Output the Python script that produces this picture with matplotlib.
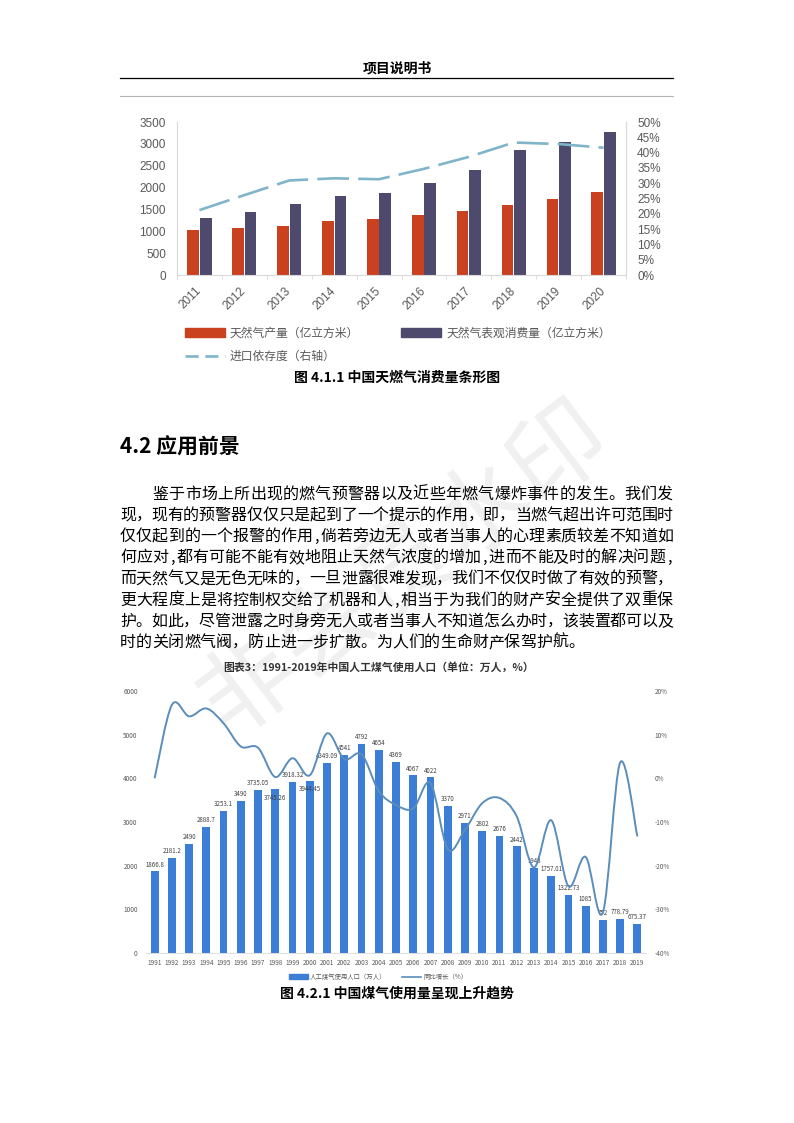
import matplotlib
matplotlib.use("Agg")
import matplotlib.pyplot as plt
import numpy as np
from matplotlib.patches import Patch, PathPatch
from matplotlib.lines import Line2D
from matplotlib.path import Path

plt.rcParams['font.family'] = ['Noto Sans CJK SC', 'DejaVu Sans']

W, H = 794, 1123

# 图 4.1.1 数据
years1 = ['2011', '2012', '2013', '2014', '2015', '2016', '2017', '2018', '2019', '2020']
production = [1022, 1076, 1130, 1239, 1278, 1363, 1471, 1611, 1750, 1905]
consumption = [1309, 1448, 1634, 1812, 1866, 2098, 2408, 2857, 3051, 3260]
import_dep = [21.2, 26.1, 30.9, 31.6, 31.3, 34.7, 38.6, 43.3, 42.8, 41.6]

# 图 4.2.1 数据
years2 = ['1991', '1992', '1993', '1994', '1995', '1996', '1997', '1998', '1999', '2000',
          '2001', '2002', '2003', '2004', '2005', '2006', '2007', '2008', '2009', '2010',
          '2011', '2012', '2013', '2014', '2015', '2016', '2017', '2018', '2019']
population = [1866.8, 2181.2, 2490, 2888.7, 3253.1, 3490, 3735.05, 3745.26, 3918.32, 3944.45,
              4349.09, 4541, 4792, 4654, 4369, 4067, 4022, 3370, 2971, 2802,
              2676, 2442, 1943, 1757.01, 1322.73, 1085, 752, 778.79, 675.37]
growth = [0, 16.8, 14.2, 16.0, 12.6, 7.3, 7.0, 0.3, 4.6, 0.7,
          10.3, 4.4, 5.5, -2.9, -6.1, -6.9, -1.1, -16.2, -11.8, -5.7,
          -4.5, -8.7, -20.4, -9.6, -24.7, -18.0, -30.7, 3.6, -13.3]
# 这两个标签在原图里压在柱顶上
low_labels = ['1998', '2000']

body_lines = [
    "鉴于市场上所出现的燃气预警器以及近些年燃气爆炸事件的发生。我们发",
    "现，现有的预警器仅仅只是起到了一个提示的作用，即，当燃气超出许可范围时",
    "仅仅起到的一个报警的作用,倘若旁边无人或者当事人的心理素质较差不知道如",
    "何应对,都有可能不能有效地阻止天然气浓度的增加,进而不能及时的解决问题,",
    "而天然气又是无色无味的，一旦泄露很难发现，我们不仅仅时做了有效的预警，",
    "更大程度上是将控制权交给了机器和人,相当于为我们的财产安全提供了双重保",
    "护。如此，尽管泄露之时身旁无人或者当事人不知道怎么办时，该装置都可以及",
    "时的关闭燃气阀，防止进一步扩散。为人们的生命财产保驾护航。",
]


def fx(x):
    return x / W


def fy(y):
    return 1 - y / H


fig = plt.figure(figsize=(W / 100, H / 100), dpi=100)

# 水印
fig.text(fx(405), fy(570), "非会员水印", fontsize=70, color='#f0f0f0', rotation=37,
         ha='center', va='center', zorder=0.2)

# 页眉
fig.text(fx(397), fy(68), "项目说明书", fontsize=10, fontweight='bold', ha='center', va='center')
fig.add_artist(Line2D([fx(120), fx(673)], [fy(78), fy(78)], color='black', lw=0.9))
fig.add_artist(Line2D([fx(120), fx(673)], [fy(96), fy(96)], color='#b5b5b5', lw=0.8))

# ---------------- 图 4.1.1 ----------------
gray = '#595959'
ax1 = fig.add_axes([fx(177), fy(275), (626 - 177) / W, (275 - 122) / H])
ax1.set_facecolor('none')
ax1.set_zorder(1)
x1 = np.arange(len(years1))
ax1.bar(x1 - 0.14, production, 0.26, color='#c9411f')
ax1.bar(x1 + 0.14, consumption, 0.26, color='#4d4a6d')
ax1.set_xlim(-0.5, len(years1) - 0.5)
ax1.set_ylim(0, 3500)
ax1.set_yticks(range(0, 3501, 500))
ax1.set_xticks(x1)
ax1.set_xticks(np.arange(-0.5, len(years1), 1), minor=True)
ax1.set_xticklabels(years1, rotation=45, ha='right', va='center', rotation_mode='anchor')
for s in ['left', 'bottom', 'right']:
    ax1.spines[s].set_color('#d9d9d9')
ax1.spines['top'].set_visible(False)
ax1.tick_params(axis='y', length=0, labelsize=8.5, labelcolor=gray, pad=8)
ax1.tick_params(axis='x', which='major', length=0, labelsize=8.5, labelcolor=gray, pad=10)
ax1.tick_params(axis='x', which='minor', length=3, color='#d9d9d9')
for lab in ax1.get_xticklabels() + ax1.get_yticklabels():
    lab.set_family('Liberation Sans')

ax1r = ax1.twinx()
ax1r.plot(x1, import_dep, color='#7fb4c9', lw=1.9, dashes=(12, 3.5))
ax1r.set_ylim(0, 50)
ax1r.set_yticks(range(0, 51, 5))
ax1r.set_yticklabels([f"{v}%" for v in range(0, 51, 5)])
ax1r.tick_params(axis='y', length=0, labelsize=8.5, labelcolor=gray, pad=8)
for s in ['left', 'bottom', 'top']:
    ax1r.spines[s].set_visible(False)
ax1r.spines['right'].set_color('#d9d9d9')
for lab in ax1r.get_yticklabels():
    lab.set_family('Liberation Sans')

h_red = Patch(color='#c9411f')
h_pur = Patch(color='#4d4a6d')
h_dash = Line2D([], [], color='#7fb4c9', lw=1.9, dashes=(5, 2.5))
fig.legend([h_red, h_dash, h_pur],
           ["天然气产量（亿立方米）", "进口依存度（右轴）", "天然气表观消费量（亿立方米）"],
           ncol=2, loc='upper left', bbox_to_anchor=(fx(180), fy(322)), frameon=False,
           fontsize=8.5, labelcolor=gray, handlelength=3.4, handleheight=0.7,
           columnspacing=3.6, labelspacing=0.85, handletextpad=0.4, borderaxespad=0)

fig.text(fx(397), fy(378), "图 4.1.1 中国天燃气消费量条形图", fontsize=10, fontweight='bold',
         ha='center', va='center')

# ---------------- 4.2 正文 ----------------
fig.text(fx(120), fy(447), "4.2 应用前景", fontsize=15, fontweight='bold', ha='left', va='center')

em = 16.0
x_left, x_right = 120, 673
y0, dy = 494, 21.2
for i, line in enumerate(body_lines):
    start = x_left + (2 * em if i == 0 else 0)
    weights = [0.5 if c in ',' else 1.0 for c in line]
    natural = sum(weights) * em
    last = i == len(body_lines) - 1
    scale = 1.0 if last else (x_right - start) / natural
    pos = start
    for c, wt in zip(line, weights):
        slot = wt * em * scale
        fig.text(fx(pos + slot / 2), fy(y0 + i * dy), c, fontsize=11.5, ha='center', va='center')
        pos += slot

# ---------------- 图 4.2.1 ----------------
fig.text(fx(379), fy(667), "图表3：1991-2019年中国人工煤气使用人口（单位：万人，%）", fontsize=7.8,
         fontweight='bold', color='#333333', ha='center', va='center')

ax2 = fig.add_axes([fx(146), fy(953), 500 / W, 262 / H])
ax2.set_facecolor('none')
ax2.set_zorder(1)
x2 = np.arange(len(years2))
ax2.bar(x2, population, 0.45, color='#3c7ed6')
for xi, yr, v in zip(x2, years2, population):
    if yr in low_labels:
        ax2.annotate(f"{v:g}", (xi, v), xytext=(0, -3), textcoords='offset points',
                     ha='center', va='top', fontsize=4.4, color='#404040', zorder=4)
    else:
        ax2.annotate(f"{v:g}", (xi, v), xytext=(0, 2), textcoords='offset points',
                     ha='center', va='bottom', fontsize=4.4, color='#404040', zorder=4)
ax2.set_xlim(-0.5, len(years2) - 0.5)
ax2.set_ylim(0, 6000)
ax2.set_yticks(range(0, 6001, 1000))
ax2.set_xticks(x2)
ax2.set_xticklabels(years2)
for s in ['left', 'right', 'top']:
    ax2.spines[s].set_visible(False)
ax2.spines['bottom'].set_color('#d9d9d9')
ax2.spines['bottom'].set_linewidth(0.6)
ax2.tick_params(axis='both', length=0, labelsize=4.6, labelcolor=gray)
ax2.tick_params(axis='y', pad=6)
ax2.tick_params(axis='x', pad=4)

ax2r = ax2.twinx()
ax2r.set_ylim(-40, 20)
ax2r.set_yticks(range(-40, 21, 10))
ax2r.set_yticklabels([f"{v}%" for v in range(-40, 21, 10)])
ax2r.tick_params(axis='y', length=0, labelsize=4.6, labelcolor=gray, pad=6)
for s in ax2r.spines.values():
    s.set_visible(False)

# 平滑曲线（贝塞尔）
pts = np.column_stack([x2, growth]).astype(float)
n = len(pts)
verts = [tuple(pts[0])]
codes = [Path.MOVETO]
for i in range(n - 1):
    p0 = pts[i - 1] if i > 0 else pts[i]
    p1 = pts[i]
    p2 = pts[i + 1]
    p3 = pts[i + 2] if i + 2 < n else pts[i + 1]
    verts += [tuple(p1 + (p2 - p0) / 6), tuple(p2 - (p3 - p1) / 6), tuple(p2)]
    codes += [Path.CURVE4] * 3
ax2r.add_patch(PathPatch(Path(verts, codes), facecolor='none', edgecolor='#5a8dba', lw=1.4))

h_bar = Patch(color='#3c7ed6')
h_line = Line2D([], [], color='#5a8dba', lw=1.2)
fig.legend([h_bar, h_line], ["人工煤气使用人口（万人）", "同比增长（%）"], ncol=2,
           loc='center', bbox_to_anchor=(fx(378), fy(977)), frameon=False, fontsize=4.6,
           labelcolor=gray, handlelength=3, handleheight=0.8, columnspacing=2.5,
           handletextpad=0.3)

fig.text(fx(397), fy(994), "图 4.2.1 中国煤气使用量呈现上升趋势", fontsize=10, fontweight='bold',
         ha='center', va='center')

fig.savefig("out.png", dpi=100)
